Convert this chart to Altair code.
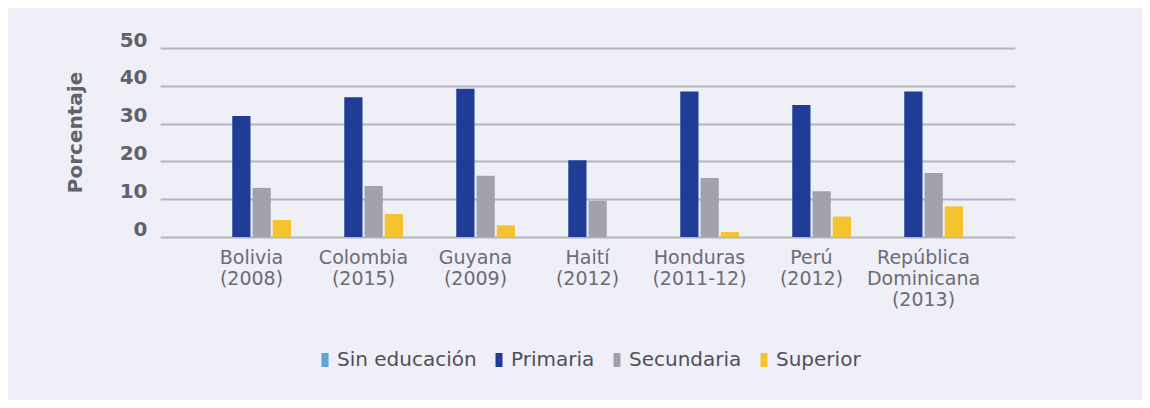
import altair as alt
import pandas as pd

paises = ["Bolivia|(2008)", "Colombia|(2015)", "Guyana|(2009)", "Haití|(2012)",
          "Honduras|(2011-12)", "Perú|(2012)", "República|Dominicana|(2013)"]
niveles = ["Sin educación", "Primaria", "Secundaria", "Superior"]
sin_educacion = [0, 0, 0, 0, 0, 0, 0]
primaria = [32, 37, 39.2, 20.3, 38.5, 34.9, 38.5]
secundaria = [13, 13.5, 16.2, 9.6, 15.6, 12.1, 16.9]
superior = [4.5, 6.1, 3.1, 0, 1.3, 5.4, 8.1]
colores = ["#5ba4dc", "#1f3c96", "#a3a2aa", "#f5c230"]
y_ticks = [0, 10, 20, 30, 40, 50]

rows = []
for serie, vals in zip(niveles, [sin_educacion, primaria, secundaria, superior]):
    for p, v in zip(paises, vals):
        rows.append({"pais": p, "nivel": serie, "valor": v})
df = pd.DataFrame(rows)

chart = alt.Chart(df).mark_bar().encode(
    x=alt.X("pais:N", sort=paises,
            scale=alt.Scale(paddingInner=0.295, paddingOuter=0.4645),
            axis=alt.Axis(title=None, labelAngle=0, domain=False, ticks=False,
                          labelPadding=11, labelBaseline="top",
                          labelExpr="split(datum.label, '|')",
                          labelFont="DejaVu Sans", labelFontSize=19,
                          labelLineHeight=21, labelColor="#6c6c74")),
    xOffset=alt.XOffset("nivel:N", sort=niveles, scale=alt.Scale(paddingInner=0.1)),
    y=alt.Y("valor:Q", scale=alt.Scale(domain=[0, 50], nice=False),
            axis=alt.Axis(title="Porcentaje", values=y_ticks, domain=False, ticks=False,
                          grid=True, gridColor="#b4b4bc", gridWidth=2,
                          labelPadding=13, labelOffset=-8,
                          labelFont="DejaVu Sans", labelFontWeight="bold",
                          labelFontSize=20, labelColor="#62626a",
                          titleFont="DejaVu Sans", titleFontWeight="bold",
                          titleFontSize=20, titleColor="#62626a",
                          titleAngle=270, titleAlign="center", titleBaseline="middle",
                          titleX=-85, titleY=84)),
    color=alt.Color("nivel:N", sort=niveles,
                    scale=alt.Scale(domain=niveles, range=colores),
                    legend=alt.Legend(title=None, orient="none", direction="horizontal",
                                      legendX=155, legendY=302,
                                      symbolType="M-0.5,-1H0.5V1H-0.5Z",
                                      symbolSize=196, symbolStrokeWidth=0,
                                      labelFont="DejaVu Sans", labelFontSize=20,
                                      labelColor="#50505a", labelOffset=2,
                                      columnPadding=12)),
).properties(
    width=855, height=189,
    background="#efeff7",
    padding={"left": 152, "top": 40, "right": 127, "bottom": 163},
    autosize=alt.AutoSizeParams(type="none"),
).configure_view(stroke=None)

chart.save("out.html", embed_options={"renderer": "svg", "actions": False})
